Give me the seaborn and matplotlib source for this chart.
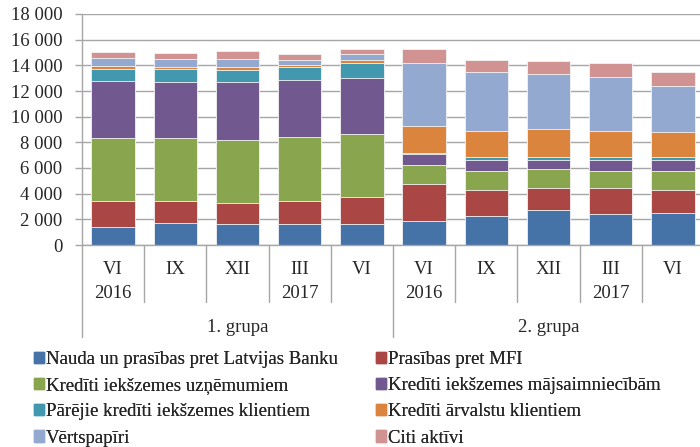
import seaborn as sns
import matplotlib.pyplot as plt
import pandas as pd
import numpy as np

# categories (two groups of banks, quarterly)
groups = ['1. grupa', '2. grupa']
months = ['VI', 'IX', 'XII', 'III', 'VI']
years = ['2016', '', '', '2017', '']

series_names = [
    'Nauda un prasības pret Latvijas Banku',
    'Prasības pret MFI',
    'Kredīti iekšzemes uzņēmumiem',
    'Kredīti iekšzemes mājsaimniecībām',
    'Pārējie kredīti iekšzemes klientiem',
    'Kredīti ārvalstu klientiem',
    'Vērtspapīri',
    'Citi aktīvi',
]
colors = ['#4572A7', '#AA4643', '#89A54E', '#71588F',
          '#4198AF', '#DB843D', '#93A9CF', '#D19392']

nauda = [1400, 1700, 1600, 1600, 1600, 1850, 2250, 2750, 2400, 2500]
mfi = [2050, 1700, 1700, 1800, 2150, 2900, 2050, 1700, 2050, 1800]
uznemumi = [4900, 4900, 4900, 5050, 4900, 1500, 1500, 1450, 1350, 1500]
majsaimn = [4400, 4400, 4500, 4400, 4400, 850, 800, 700, 800, 800]
parejie = [1000, 1000, 900, 1050, 1150, 100, 250, 250, 250, 250]
arvalstu = [200, 200, 250, 100, 200, 2100, 2050, 2200, 2050, 1950]
vertspapiri = [600, 600, 650, 400, 500, 4900, 4550, 4300, 4200, 3600]
citi = [500, 500, 600, 500, 350, 1100, 1000, 1000, 1050, 1050]

values = [nauda, mfi, uznemumi, majsaimn, parejie, arvalstu, vertspapiri, citi]

cats = [f'{g} {m} {y} {i}' for g in groups for i, (m, y) in enumerate(zip(months, years))]
df = pd.DataFrame({'cat': cats})
cum = np.cumsum(np.array(values), axis=0)
for name, c in zip(series_names, cum):
    df[name] = c

sns.set_style('white')
plt.rcParams['font.family'] = ['Liberation Serif', 'DejaVu Serif']
fs = 13.5

fig = plt.figure(figsize=(7, 4.47), dpi=100)
ax = fig.add_axes([82 / 700, 202 / 447, 622 / 700, 231 / 447])

# stacked bars: draw cumulative totals from top layer down
for name, col in reversed(list(zip(series_names, colors))):
    sns.barplot(data=df, x='cat', y=name, order=cats, color=col, width=0.7,
                edgecolor='#F4F4F4', linewidth=0.6, saturation=1, ax=ax)

ax.set_ylim(0, 18000)
ax.set_xlim(-0.5, 9.5)
ax.set_yticks(range(0, 18001, 2000))
ax.set_yticklabels([f'{v:,}'.replace(',', ' ') for v in range(0, 18001, 2000)], fontsize=fs)
ax.yaxis.grid(True, color='#A6A6A6', linewidth=1)
ax.set_axisbelow(True)
ax.tick_params(axis='y', left=True, length=5, width=1, color='#A6A6A6', pad=9)
ax.set_xticks([])
ax.set_xlabel('')
ax.set_ylabel('')
for s in ['top', 'right']:
    ax.spines[s].set_visible(False)
for s in ['left', 'bottom']:
    ax.spines[s].set_color('#A6A6A6')
    ax.spines[s].set_linewidth(1)

# two-level category axis
trans = ax.get_xaxis_transform()
for i in range(10):
    m = months[i % 5]
    y = years[i % 5]
    ax.text(i, -0.108, m, transform=trans, ha='center', va='center', fontsize=fs)
    if y:
        ax.text(i, -0.21, y, transform=trans, ha='center', va='center', fontsize=fs)
for k in range(11):
    x = k - 0.5
    bottom = -0.398 if k % 5 == 0 else -0.247
    ax.plot([x, x], [0, bottom], transform=trans, color='#A6A6A6', lw=1, clip_on=False)
for j, g in enumerate(groups):
    ax.text(2 + 5 * j, -0.355, g, transform=trans, ha='center', va='center', fontsize=fs)

# legend in two columns
handles = [plt.Rectangle((0, 0), 1, 1, color=c) for c in colors]
for col, x0 in enumerate([34 / 700, 376 / 700]):
    idx = [col, col + 2, col + 4, col + 6]
    leg = fig.legend([handles[i] for i in idx], [series_names[i] for i in idx],
                     loc='upper left', bbox_to_anchor=(x0, 1 - 351 / 447),
                     frameon=False, fontsize=fs, handlelength=0.55, handleheight=0.55,
                     handletextpad=0.1, labelspacing=0.49, borderaxespad=0, borderpad=0)
    fig.add_artist(leg)

fig.savefig('out.png', dpi=100)
